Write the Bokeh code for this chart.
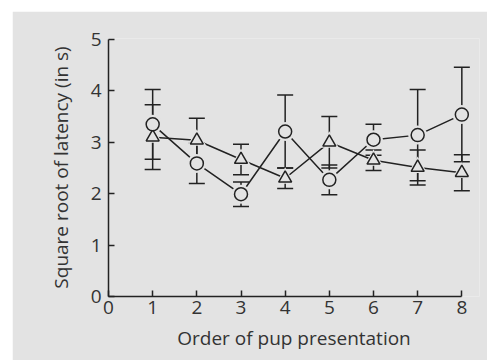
from bokeh.plotting import figure
from bokeh.models import ColumnDataSource, Whisker, TeeHead, Range1d, FixedTicker
from bokeh.embed import file_html
from bokeh.resources import INLINE

# ---- data ----
order = [1, 2, 3, 4, 5, 6, 7, 8]
circle_mean = [3.35, 2.59, 1.99, 3.21, 2.27, 3.05, 3.14, 3.54]
circle_err = [0.68, 0.39, 0.24, 0.71, 0.29, 0.30, 0.89, 0.92]
triangle_mean = [3.10, 3.04, 2.665, 2.30, 3.00, 2.65, 2.51, 2.41]
triangle_err = [0.63, 0.43, 0.295, 0.20, 0.50, 0.20, 0.34, 0.35]
x_ticks = [0, 1, 2, 3, 4, 5, 6, 7, 8]
y_ticks = [0, 1, 2, 3, 4, 5]

BG = "#e3e3e3"
INK = "#222222"
FONT = "Open Sans"

circ = ColumnDataSource(dict(
    x=order, y=circle_mean,
    lo=[m - e for m, e in zip(circle_mean, circle_err)],
    hi=[m + e for m, e in zip(circle_mean, circle_err)]))
tri = ColumnDataSource(dict(
    x=order, y=triangle_mean,
    lo=[m - e for m, e in zip(triangle_mean, triangle_err)],
    hi=[m + e for m, e in zip(triangle_mean, triangle_err)]))

p = figure(width=475, height=349, output_backend="svg", toolbar_location=None,
           x_range=Range1d(0, 8.4), y_range=Range1d(0, 5.02),
           min_border_left=96, min_border_right=8, min_border_top=27, min_border_bottom=64)
p.margin = (11, 0, 0, 12)
p.background_fill_color = BG
p.border_fill_color = BG
p.outline_line_color = None
p.grid.visible = False

for ax, ticks in ((p.xaxis, x_ticks), (p.yaxis, y_ticks)):
    ax.ticker = FixedTicker(ticks=ticks)
    ax.minor_tick_line_color = None
    ax.major_tick_in = 6
    ax.major_tick_out = 0
    ax.axis_line_color = INK
    ax.axis_line_width = 1.5
    ax.major_tick_line_color = INK
    ax.major_tick_line_width = 1.5
    ax.major_label_text_font = FONT
    ax.major_label_text_font_size = "19px"
    ax.major_label_text_color = "#333333"
    ax.axis_label_text_font = FONT
    ax.axis_label_text_font_size = "19px"
    ax.axis_label_text_font_style = "normal"
    ax.axis_label_text_color = "#333333"
p.xaxis.bounds = (0, 8)
p.yaxis.bounds = (0, 5)
p.xaxis.major_label_standoff = 4
p.yaxis.major_label_standoff = 7
p.xaxis.axis_label = "Order of pup presentation"
p.yaxis.axis_label = "Square root of latency (in s)"
p.xaxis.axis_label_standoff = 8
p.yaxis.axis_label_standoff = 14

# connecting lines
p.line("x", "y", source=circ, line_color=INK, line_width=1.5)
p.line("x", "y", source=tri, line_color=INK, line_width=1.5)

# halos that open small gaps in the connecting lines
p.scatter("x", "y", source=circ, marker="circle", size=19, fill_color=BG, line_color=None)
p.scatter("x", "y", source=tri, marker="triangle", size=19, fill_color=BG, line_color=None)

# error bars
for src in (tri, circ):
    w = Whisker(base="x", lower="lo", upper="hi", source=src, dimension="height",
                line_color=INK, line_width=1.5,
                lower_head=TeeHead(size=16, line_color=INK, line_width=1.5),
                upper_head=TeeHead(size=16, line_color=INK, line_width=1.5))
    p.add_layout(w)

# markers
p.scatter("x", "y", source=tri, marker="triangle", size=13, fill_color=None,
          line_color=INK, line_width=1.5)
p.scatter("x", "y", source=circ, marker="circle", size=13, fill_color=BG,
          line_color=INK, line_width=1.5)

open("out.html", "w").write(file_html(p, INLINE))
